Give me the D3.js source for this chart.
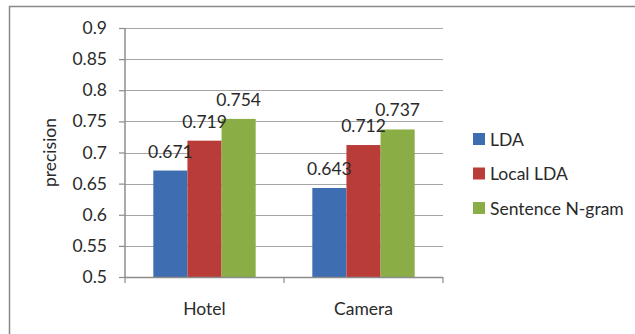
<!DOCTYPE html>
<html>
<head>
<script src="https://d3js.org/d3.v7.min.js"></script>
<style>
  body { margin: 0; background: #fff; }
  text { font-family: Lato, "Open Sans", sans-serif; fill: #2a2a2a; }
</style>
</head>
<body>
<svg id="chart" width="635" height="334"></svg>
<script>
var categories = ["Hotel", "Camera"];
var seriesNames = ["LDA", "Local LDA", "Sentence N-gram"];
var seriesColors = ["#3e6db1", "#b93c39", "#8aae45"];
var ldaValues = [0.671, 0.643];
var localLdaValues = [0.719, 0.712];
var ngramValues = [0.754, 0.737];
var yTicks = [0.5, 0.55, 0.6, 0.65, 0.7, 0.75, 0.8, 0.85, 0.9];

var seriesValues = [ldaValues, localLdaValues, ngramValues];
var fs = "17.5px";

var svg = d3.select("#chart");
var plotLeft = 125, plotRight = 443, plotTop = 28, plotBottom = 277;

// outer frame (only left/top visible in the picture)
svg.append("rect").attr("x", 9.5).attr("y", 6.5).attr("width", 700).attr("height", 400)
  .attr("fill", "none").attr("stroke", "#888").attr("stroke-width", 1.5);

var x = d3.scaleBand().domain(categories).range([plotLeft, plotRight]);
var xs = d3.scaleBand().domain(seriesNames).range([0, x.bandwidth()]).paddingOuter(0.83).paddingInner(0);
var y = d3.scaleLinear().domain([0.5, 0.9]).range([plotBottom, plotTop]);

// gridlines
svg.append("g").selectAll("line").data(yTicks.slice(1)).enter().append("line")
  .attr("x1", plotLeft).attr("x2", plotRight)
  .attr("y1", function(d) { return Math.round(y(d)) + 0.5; })
  .attr("y2", function(d) { return Math.round(y(d)) + 0.5; })
  .attr("stroke", "#a6a6a6").attr("stroke-width", 1.2);

var cells = [];
seriesNames.forEach(function(s, i) {
  categories.forEach(function(c, j) { cells.push({cat: c, s: s, i: i, v: seriesValues[i][j]}); });
});

// bars
svg.append("g").selectAll("rect").data(cells).enter().append("rect")
  .attr("fill", function(d) { return seriesColors[d.i]; })
  .attr("x", function(d) { return x(d.cat) + xs(d.s); })
  .attr("width", xs.bandwidth())
  .attr("y", function(d) { return y(d.v); })
  .attr("height", function(d) { return y(0.5) - y(d.v); });

// value labels, drawn over all bars
svg.append("g").selectAll("text").data(cells).enter().append("text")
  .attr("x", function(d) { return x(d.cat) + xs(d.s) + xs.bandwidth() / 2; })
  .attr("y", function(d) { return y(d.v) - 13; })
  .attr("text-anchor", "middle")
  .style("font-size", fs)
  .text(function(d) { return d.v; });

// y axis
var yAxis = svg.append("g").attr("transform", "translate(" + plotLeft + ",0)")
  .call(d3.axisLeft(y).tickValues(yTicks).tickSize(6).tickPadding(12)
    .tickFormat(function(d) { return String(+d.toFixed(2)); }));
yAxis.select(".domain").attr("stroke", "#8c8c8c").attr("stroke-width", 1.5).attr("d", "M0," + plotTop + "V" + plotBottom);
yAxis.selectAll(".tick line").attr("stroke", "#8c8c8c").attr("stroke-width", 1.2);
yAxis.selectAll(".tick text").style("font-size", fs).style("font-family", "Lato").attr("fill", "#2a2a2a");

// x axis
var xAxis = svg.append("g").attr("transform", "translate(0," + plotBottom + ")");
xAxis.append("line").attr("x1", plotLeft).attr("x2", plotRight).attr("y1", 0.5).attr("y2", 0.5)
  .attr("stroke", "#8c8c8c").attr("stroke-width", 1.5);
xAxis.selectAll("line.tk").data([plotLeft, plotLeft + x.bandwidth(), plotRight]).enter().append("line")
  .attr("class", "tk")
  .attr("x1", function(d) { return d; }).attr("x2", function(d) { return d; })
  .attr("y1", 0).attr("y2", 6).attr("stroke", "#8c8c8c").attr("stroke-width", 1.2);
xAxis.selectAll("text").data(categories).enter().append("text")
  .attr("x", function(d) { return x(d) + x.bandwidth() / 2; })
  .attr("y", 38).attr("text-anchor", "middle").style("font-size", fs)
  .text(function(d) { return d; });

// y title
svg.append("text").attr("transform", "translate(56," + (plotTop + plotBottom) / 2 + ") rotate(-90)")
  .attr("text-anchor", "middle").style("font-size", fs).text("precision");

// legend
var legend = svg.append("g").selectAll("g").data(seriesNames).enter().append("g")
  .attr("transform", function(d, i) { return "translate(473," + (139 + i * 34.5) + ")"; });
legend.append("rect").attr("x", 0).attr("y", -6).attr("width", 12).attr("height", 12)
  .attr("fill", function(d, i) { return seriesColors[i]; });
legend.append("text").attr("x", 17).attr("y", 6.5).style("font-size", fs)
  .text(function(d) { return d; });
</script>
</body>
</html>
